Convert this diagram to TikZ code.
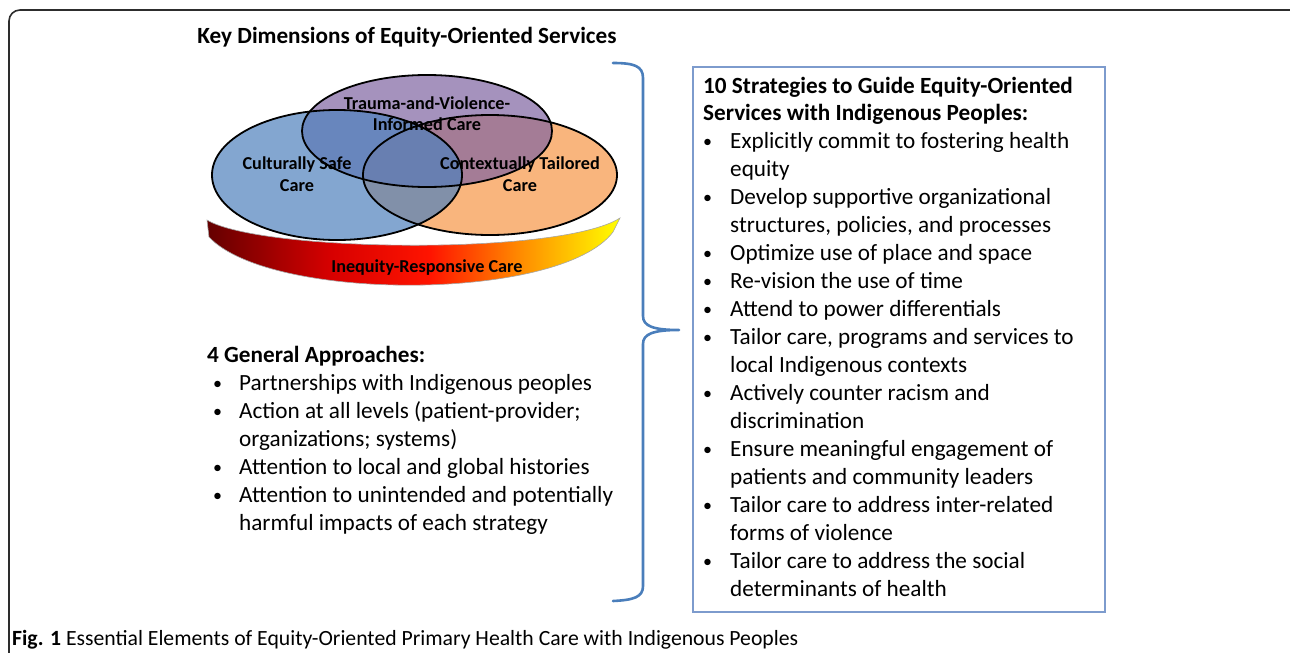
\documentclass[tikz,border=0pt]{standalone}
\usepackage{fontspec}
\setmainfont{Carlito}
\definecolor{ineqA}{RGB}{100,0,0}
\definecolor{ineqB}{RGB}{215,0,0}
\definecolor{ineqC}{RGB}{255,20,0}
\definecolor{ineqD}{RGB}{255,140,0}
\definecolor{ineqE}{RGB}{255,255,0}
\definecolor{vblue}{RGB}{79,129,189}
\definecolor{vpurple}{RGB}{128,100,162}
\definecolor{vorange}{RGB}{247,150,70}
\definecolor{bracec}{RGB}{74,126,187}
\definecolor{boxc}{RGB}{125,155,205}
\definecolor{framec}{RGB}{45,45,45}
\pgfdeclarehorizontalshading{ineq}{100bp}{color(0bp)=(ineqA); color(25bp)=(ineqA); color(40bp)=(ineqB); color(52bp)=(ineqC); color(63bp)=(ineqD); color(75bp)=(ineqE); color(100bp)=(ineqE)}
\tikzset{
  txt/.style={font=\fontsize{23.2}{28}\selectfont, anchor=base west, inner sep=0pt},
  btxt/.style={font=\fontsize{23.2}{28}\selectfont\bfseries, anchor=base west, inner sep=0pt},
  bul/.style={font=\fontsize{18}{28}\selectfont, anchor=base west, inner sep=0pt},
  vlab/.style={font=\fontsize{18.2}{21}\selectfont\bfseries, anchor=base, inner sep=0pt},
  capt/.style={font=\fontsize{21.7}{24}\selectfont, anchor=base west, inner sep=0pt},
}
\begin{document}
\begin{tikzpicture}[x=1pt,y=-1pt]
\useasboundingbox (0,0) rectangle (1290,653);
\begin{scope}
\clip (0,0) rectangle (1290,653);
\draw[framec, line width=1.6pt, rounded corners=11pt] (9,10) rectangle (1302,720);
\end{scope}

% title
\node[btxt, anchor=base] (kd) at (407,43) {Key Dimensions of Equity-Oriented Services};

% crescent
\shade[shading=ineq, draw=gray!70, line width=0.6pt]
  (207,220) .. controls (260,252) and (560,256) .. (620,218)
  -- (613,232) .. controls (560,302) and (270,302) .. (209,237) -- cycle;

% white under ellipses
\fill[white] (490,175) ellipse [x radius=127, y radius=60];
\fill[white] (427,131) ellipse [x radius=125, y radius=56];
\fill[white] (337,175) ellipse [x radius=125, y radius=65];
% fills
\fill[vorange, fill opacity=0.7] (490,175) ellipse [x radius=127, y radius=60];
\fill[vpurple, fill opacity=0.7] (427,131) ellipse [x radius=125, y radius=56];
\fill[vblue, fill opacity=0.7] (337,175) ellipse [x radius=125, y radius=65];
% outlines
\draw[black, line width=1.8pt] (490,175) ellipse [x radius=127, y radius=60];
\draw[black, line width=1.8pt] (427,131) ellipse [x radius=125, y radius=56];
\draw[black, line width=1.8pt] (337,175) ellipse [x radius=125, y radius=65];

% venn labels
\node[vlab] (tv1) at (427,109) {Trauma-and-Violence-};
\node[vlab] (tv2) at (427,130) {Informed Care};
\node[vlab] (cs1) at (297,169) {Culturally Safe};
\node[vlab] (cs2) at (297,191) {Care};
\node[vlab] (ct1) at (520,169) {Contextually Tailored};
\node[vlab] (ct2) at (520,191) {Care};
\node[vlab] (ir) at (427,272) {Inequity-Responsive Care};

% brace
\draw[bracec, line width=2.6pt, line cap=round, line join=round]
  (613,63) .. controls (634,63) and (643,66) .. (643,78) -- (643,316)
  .. controls (643,326) and (653,330) .. (679,330)
  .. controls (653,330) and (643,334) .. (643,344) -- (643,586)
  .. controls (643,597) and (634,600) .. (613,601);

% left list
\node[btxt] (ga) at (207,362) {4 General Approaches:};
\node[bul] (gb1) at (213,389) {•};
\node[txt] (g1) at (239,390) {Partnerships with Indigenous peoples};
\node[bul] (gb2) at (213,417) {•};
\node[txt] (g2a) at (239,418) {Action at all levels (patient-provider;};
\node[txt] (g2b) at (239,446) {organizations; systems)};
\node[bul] (gb3) at (213,473) {•};
\node[txt] (g3) at (239,474) {Attention to local and global histories};
\node[bul] (gb4) at (213,501) {•};
\node[txt] (g4a) at (239,502) {Attention to unintended and potentially};
\node[txt] (g4b) at (239,530) {harmful impacts of each strategy};

% right box
\draw[boxc, line width=1.2pt] (693,67) rectangle (1105,612);
\node[btxt] (st1) at (703,93) {10 Strategies to Guide Equity-Oriented};
\node[btxt] (st2) at (703,120) {Services with Indigenous Peoples:};
\node[bul] (sb1) at (703,147) {•};
\node[txt] (s1a) at (730,148) {Explicitly commit to fostering health};
\node[txt] (s1b) at (730,176) {equity};
\node[bul] (sb2) at (703,203) {•};
\node[txt] (s2a) at (730,204) {Develop supportive organizational};
\node[txt] (s2b) at (730,232) {structures, policies, and processes};
\node[bul] (sb3) at (703,259) {•};
\node[txt] (s3) at (730,260) {Optimize use of place and space};
\node[bul] (sb4) at (703,287) {•};
\node[txt] (s4) at (730,288) {Re-vision the use of time};
\node[bul] (sb5) at (703,315) {•};
\node[txt] (s5) at (730,316) {Attend to power differentials};
\node[bul] (sb6) at (703,343) {•};
\node[txt] (s6a) at (730,344) {Tailor care, programs and services to};
\node[txt] (s6b) at (730,372) {local Indigenous contexts};
\node[bul] (sb7) at (703,399) {•};
\node[txt] (s7a) at (730,400) {Actively counter racism and};
\node[txt] (s7b) at (730,428) {discrimination};
\node[bul] (sb8) at (703,455) {•};
\node[txt] (s8a) at (730,456) {Ensure meaningful engagement of};
\node[txt] (s8b) at (730,484) {patients and community leaders};
\node[bul] (sb9) at (703,511) {•};
\node[txt] (s9a) at (730,512) {Tailor care to address inter-related};
\node[txt] (s9b) at (730,540) {forms of violence};
\node[bul] (sb10) at (703,567) {•};
\node[txt] (s10a) at (730,568) {Tailor care to address the social};
\node[txt] (s10b) at (730,596) {determinants of health};

% caption
\node[capt] (cap) at (12,645) {\textbf{Fig. 1} Essential Elements of Equity-Oriented Primary Health Care with Indigenous Peoples};
\end{tikzpicture}
\end{document}
